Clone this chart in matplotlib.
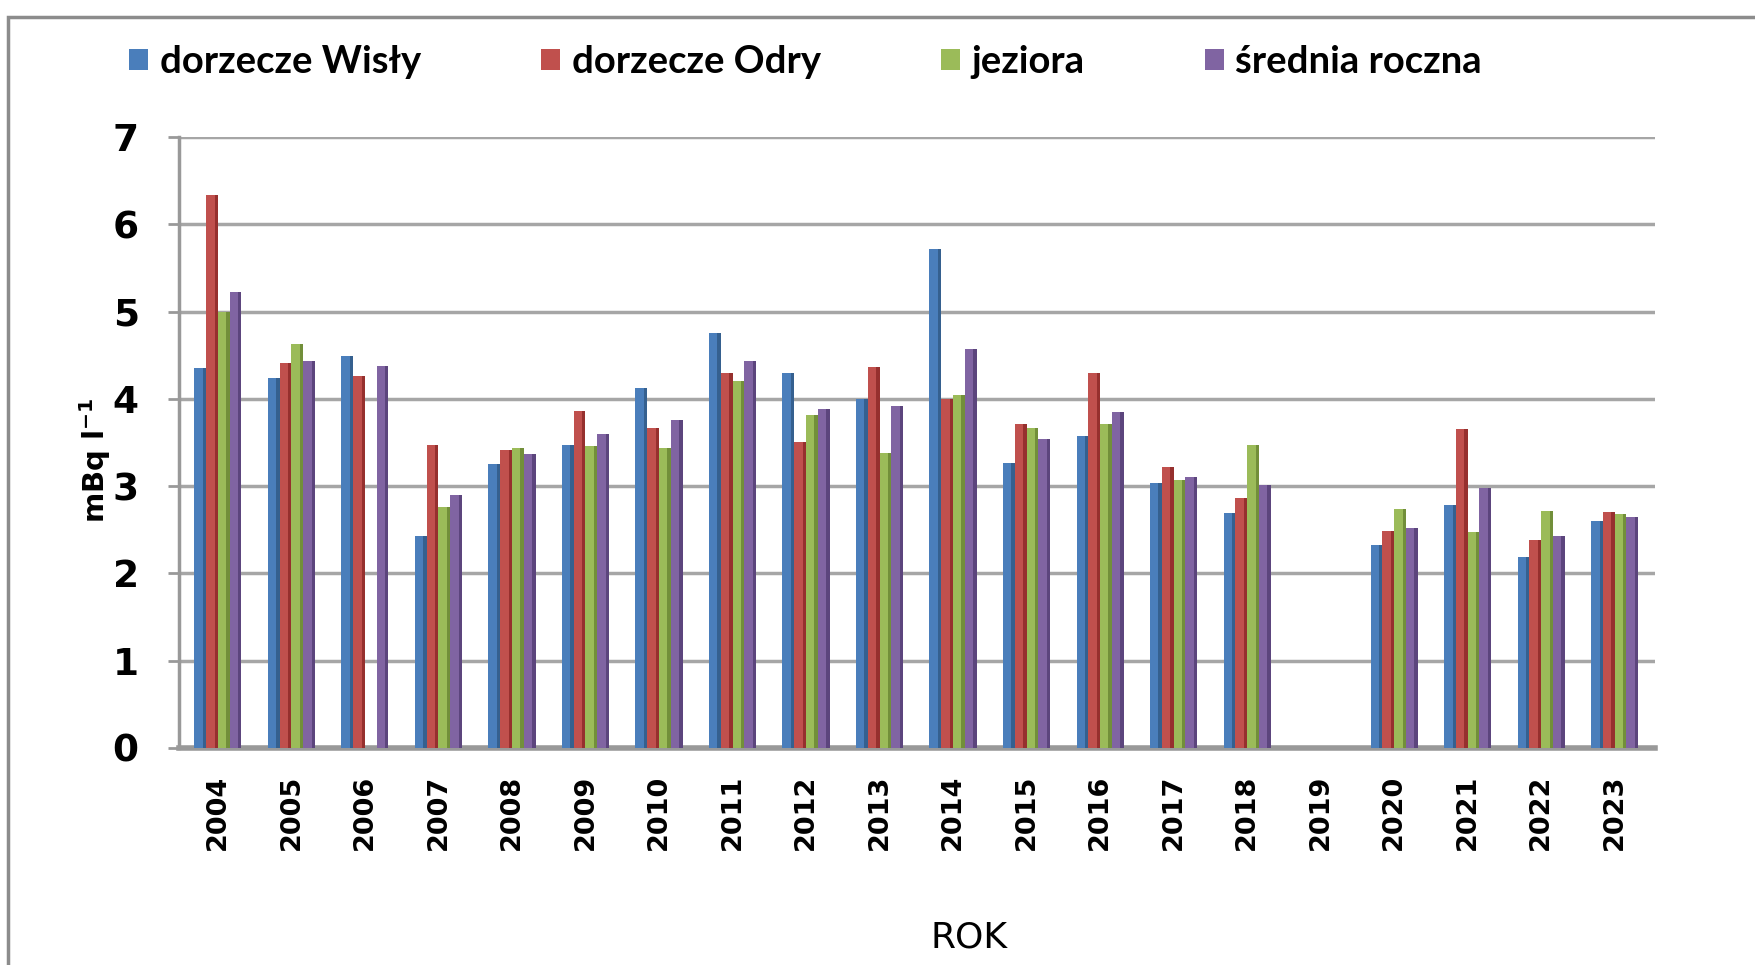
import numpy as np
import matplotlib
matplotlib.use("Agg")
import matplotlib.pyplot as plt
from matplotlib.patches import Rectangle, Patch
from matplotlib import font_manager as fm

years = [str(y) for y in range(2004, 2024)]
wisla = [4.35, 4.24, 4.49, 2.43, 3.25, 3.47, 4.13, 4.76, 4.30, 4.00,
         5.72, 3.26, 3.57, 3.04, 2.69, np.nan, 2.32, 2.78, 2.19, 2.60]
odra = [6.33, 4.41, 4.26, 3.47, 3.41, 3.86, 3.67, 4.30, 3.51, 4.37,
        4.00, 3.71, 4.30, 3.22, 2.86, np.nan, 2.49, 3.66, 2.38, 2.70]
jeziora = [5.00, 4.63, np.nan, 2.76, 3.44, 3.46, 3.44, 4.21, 3.81, 3.38,
           4.04, 3.67, 3.71, 3.07, 3.47, np.nan, 2.74, 2.47, 2.71, 2.68]
srednia = [5.22, 4.43, 4.38, 2.90, 3.37, 3.60, 3.76, 4.43, 3.88, 3.92,
           4.57, 3.54, 3.85, 3.11, 3.01, 0.0, 2.52, 2.98, 2.43, 2.65]

series_names = ["dorzecze Wisły", "dorzecze Odry", "jeziora", "średnia roczna"]
series_vals = [wisla, odra, jeziora, srednia]
colors = ["#4A7EBB", "#C0504D", "#9BBB59", "#8064A2"]
dark = ["#35608F", "#96302E", "#728F3A", "#5C457D"]


def pick(fams):
    for f in fams:
        try:
            fm.findfont(fm.FontProperties(family=f), fallback_to_default=False)
            return f
        except Exception:
            pass
    return "DejaVu Sans"


narrow = pick(["Liberation Sans Narrow", "DejaVu Sans Condensed"])
is_lib = narrow == "Liberation Sans Narrow"

fig = plt.figure(figsize=(17.56, 9.65), dpi=100)
W, H = 1756, 965
ax = fig.add_axes([179 / W, 1 - 748 / H, (1655 - 179) / W, (748 - 137) / H])

x = np.arange(len(years))
bw = 0.16
offsets = (np.arange(4) - 1.5) * bw
for vals, off, c, d in zip(series_vals, offsets, colors, dark):
    v = np.array(vals, dtype=float)
    ax.bar(x + off, v, width=bw, color=c, edgecolor="none", zorder=3)
    # darker side strip to mimic the 3D look
    ax.bar(x + off + bw * 0.5, v, width=-bw * 0.28, align="edge",
           color=d, edgecolor="none", zorder=3)

ax.set_xlim(-0.53, len(years) - 1 + 0.55)
ax.set_ylim(0, 7)
ax.set_yticks(range(0, 8))
ax.yaxis.grid(True, color="#A6A6A6", linewidth=2.5, zorder=0)
ax.set_axisbelow(True)
for s in ["top", "right"]:
    ax.spines[s].set_visible(False)
ax.spines["left"].set_color("#999999")
ax.spines["left"].set_linewidth(2.5)
ax.spines["bottom"].set_color("#999999")
ax.spines["bottom"].set_linewidth(4)

xt_size = 24 if is_lib else 19.5
yt_size = 29 if is_lib else 27
ax.set_xticks(x)
ax.set_xticklabels(years, rotation=90, fontsize=xt_size, fontweight="bold",
                   family=narrow)
ax.tick_params(axis="x", length=0, pad=19)
ax.tick_params(axis="y", length=8, width=2, color="#999999", pad=21)
for t in ax.get_yticklabels():
    t.set_fontweight("bold")
    t.set_family(narrow)
    t.set_fontsize(yt_size)

ax.set_ylabel("mBq l$^{\\mathbf{-1}}$", fontsize=21, fontweight="bold")
ax.yaxis.set_label_coords(-0.045, 0.471)
ax.set_xlabel("ROK", fontsize=28 if is_lib else 26, family=narrow)
ax.xaxis.set_label_coords((969 - 179) / (1655 - 179), -(938 - 748) / (748 - 137))
ax.xaxis.label.set_verticalalignment("center")

handles = [Patch(facecolor=c, edgecolor="none") for c in colors]
fig.legend(handles, series_names, loc="upper left",
           bbox_to_anchor=(129 / W, 1 - 45 / H), ncol=4, frameon=False,
           prop={"family": "Lato", "weight": "bold", "size": 27.5},
           handlelength=0.5, handleheight=0.5, handletextpad=0.3,
           columnspacing=3.15, borderpad=0, borderaxespad=0)

# outer chart frame (left and top visible)
fig.patches.append(Rectangle((8 / W, -0.02), 1.05, 1 - 17 / H + 0.02,
                             transform=fig.transFigure, fill=False,
                             edgecolor="#8C8C8C", linewidth=2.5))

fig.savefig("out.png", dpi=100)
